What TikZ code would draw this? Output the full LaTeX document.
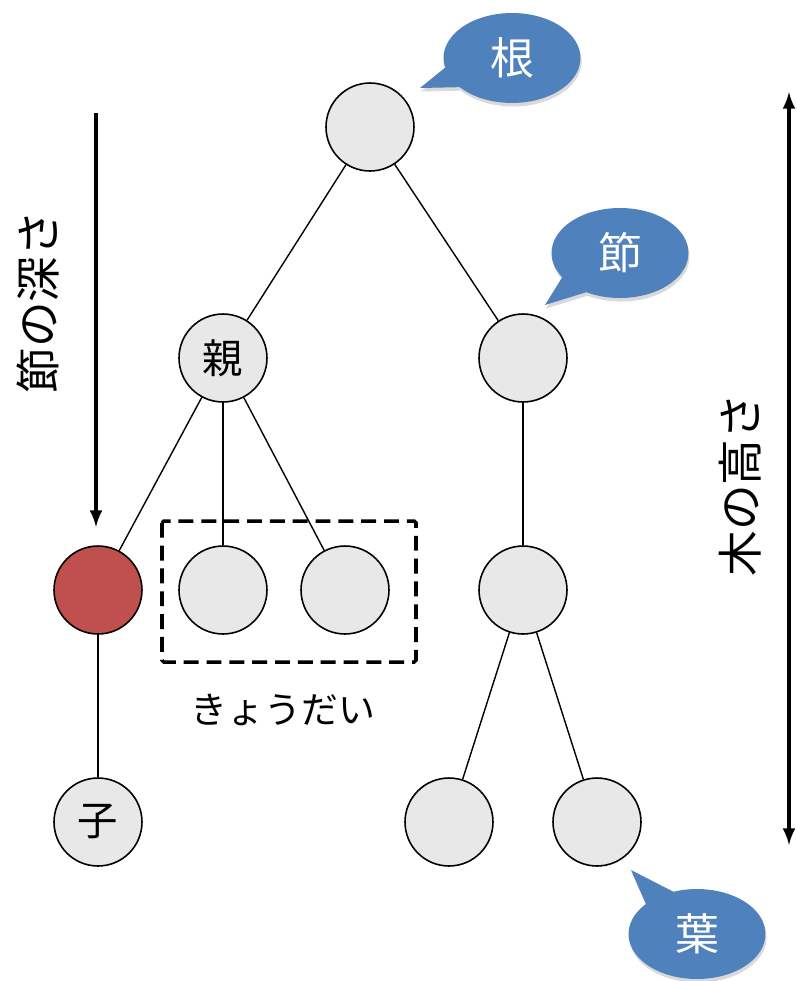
\documentclass[tikz,border=0pt]{standalone}
\usepackage{fontspec}
\newfontfamily\jp{Noto Sans CJK JP}
\usepackage{tikz}
\usetikzlibrary{arrows,backgrounds,calc,shapes.callouts,shadows}
\definecolor{knotgrau}{HTML}{E8E8E8}
\definecolor{knotrot}{HTML}{C0504D}
\definecolor{blase}{HTML}{4F81BD}
\tikzset{
  knoten/.style={circle,draw,line width=0.9pt,fill=knotgrau,minimum size=1.76cm,
    inner sep=0pt,font=\jp\fontsize{23}{23}\selectfont},
  kante/.style={line width=0.8pt},
  blasen/.style={ellipse callout,fill=blase,text=white,minimum width=2.74cm,
    minimum height=1.8cm,inner sep=0pt,callout pointer arc=28,
    drop shadow={shadow xshift=0.6pt,shadow yshift=-2pt,opacity=0.3},
    font=\jp\fontsize{25}{25}\selectfont},
  pfeil/.style={line width=2.2pt},
  beschrift/.style={font=\jp\fontsize{21}{21}\selectfont},
}

\begin{document}
\begin{tikzpicture}[x=0.02cm,y=-0.02cm]
\useasboundingbox (0,0) rectangle (796,981);
% Knoten
\node[knoten] (wurzel) at (370,127) {};
\node[knoten] (oya)    at (223,358) {親};
\node[knoten] (rechts) at (523,358) {};
\node[knoten,fill=knotrot] (rot) at (98,590) {};
\node[knoten] (bruder1) at (223,590) {};
\node[knoten] (bruder2) at (345,590) {};
\node[knoten] (mitte)  at (523,590) {};
\node[knoten] (ko)     at (98,822) {子};
\node[knoten] (blatt1) at (449,822) {};
\node[knoten] (blatt2) at (597,822) {};
% Kanten
\draw[kante] (wurzel) -- (oya);
\draw[kante] (wurzel) -- (rechts);
\draw[kante] (oya) -- (rot);
\draw[kante] (oya) -- (bruder1);
\draw[kante] (oya) -- (bruder2);
\draw[kante] (rechts) -- (mitte);
\draw[kante] (rot) -- (ko);
\draw[kante] (mitte) -- (blatt1);
\draw[kante] (mitte) -- (blatt2);
% Geschwister
\draw[line width=2pt,dash pattern=on 8.5pt off 4.5pt,rounded corners=1pt]
  (162,521) rectangle (416,662);
\node[beschrift] (kyodai) at (283,710) {きょうだい};
% Blasen
\node[blasen,callout absolute pointer={(420,88)}]  (bne)    at (512,58)  {根};
\node[blasen,callout absolute pointer={(545,305)}] (bfushi) at (620,253) {節};
\node[blasen,callout absolute pointer={(631,870)}] (bha)    at (697,934) {葉};
% Tiefe und Hoehe
\coordinate (tiefeoben) at (96,113);
\coordinate (tiefeunten) at (96,527);
\draw[pfeil,-latex] (tiefeoben) -- (tiefeunten);
\node[beschrift,font=\jp\fontsize{26}{26}\selectfont,rotate=90] (tiefe) at (38,302) {節の深さ};
\coordinate (hoeheoben) at (789,92);
\coordinate (hoeheunten) at (789,845);
\draw[pfeil,latex-latex] (hoeheoben) -- (hoeheunten);
\node[beschrift,font=\jp\fontsize{26}{26}\selectfont,rotate=90] (hoehe) at (740,485) {木の高さ};
\end{tikzpicture}
\end{document}
